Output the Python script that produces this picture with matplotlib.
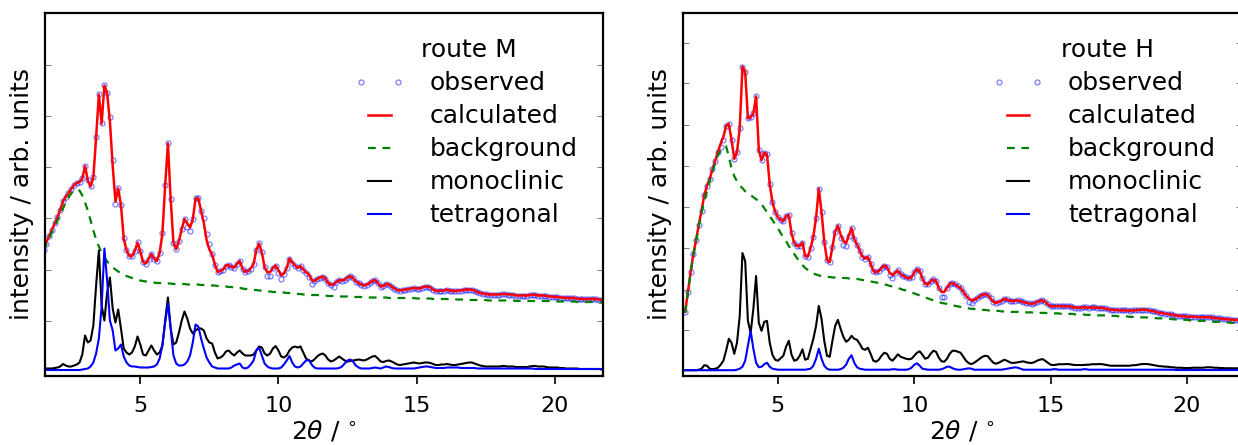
import numpy as np
import matplotlib.pyplot as plt
from matplotlib.legend_handler import HandlerLine2D

# 2theta grids in degrees (0.1 deg steps)
two_theta_m = np.round(np.arange(1.5, 22.01, 0.1), 1)
two_theta_h = np.round(np.arange(1.6, 22.01, 0.1), 1)

# route M, intensities in arb. units
background_m = [
    120, 126, 132, 138, 144, 150, 156, 162, 168, 173,
    177, 180, 181, 180, 175, 168, 160, 150, 140, 131,
    124, 118, 113, 109, 106, 103, 101, 99, 97.5, 96,
    94.5, 93.5, 92.5, 91.5, 90.5, 90, 89.5, 89, 88.5, 88,
    88, 87.5, 87.5, 87, 87, 87, 87, 86.5, 86.5, 86.5,
    86.5, 86.5, 86, 86, 86, 86, 86, 85.5, 85.5, 85.5,
    85, 85, 85, 84.5, 84.5, 84, 84, 83.5, 83.5, 83,
    82.5, 82.5, 82, 81.5, 81.5, 81, 80.5, 80.5, 80, 80,
    79.5, 79, 79, 78.5, 78.5, 78.5, 78, 78, 77.5, 77.5,
    77, 77, 76.5, 76.5, 76, 76, 76, 75.5, 75.5, 75.5,
    75, 75, 75, 74.5, 74.5, 74.5, 74.5, 74, 74, 74,
    74, 74, 73.5, 73.5, 73.5, 73.5, 73, 73, 73, 73,
    73, 73, 73, 73, 73, 72.5, 72.5, 72.5, 72.5, 72.5,
    72.5, 72.5, 72.5, 72.5, 72.5, 72, 72, 72, 72, 72,
    72, 71.5, 71.5, 71.5, 71.5, 71.5, 71.5, 71, 71, 71,
    71, 71, 71, 71, 70.5, 70.5, 70.5, 70.5, 70.5, 70.5,
    70.5, 70, 70, 70, 70, 70, 70, 70, 70, 70,
    70, 69.5, 69.5, 69.5, 69.5, 69.5, 69.5, 69.5, 69.5, 69.5,
    69.5, 69.5, 69.5, 69.5, 69.5, 69, 69, 69, 69, 69,
    69, 69, 69, 68.5, 68.5, 68.5, 68.5, 68.5, 68.5, 68.5,
    68.5, 68, 68, 68, 68, 68,
]
monoclinic_m = [
    2, 2, 2, 2, 2.5, 3, 4, 6.5, 5, 4,
    4, 5, 6, 8, 16, 35, 28, 30, 45, 85,
    120, 65, 50, 78, 93, 62, 48, 61, 42, 22,
    18, 16, 18, 24, 34, 26, 16, 15, 20, 25,
    20, 16, 18, 25, 50, 73, 42, 26, 28, 38,
    50, 59, 52, 42, 37, 40, 42, 42, 40, 32,
    28, 27, 18, 12, 13, 15, 19, 20, 17, 15,
    18, 20, 17, 15, 15, 15, 16, 20, 24, 23,
    17, 15, 17, 22, 24.5, 20, 14, 13, 15, 20,
    23, 24, 23, 24, 18, 12, 10, 9, 11, 14,
    16, 17, 15, 11, 9, 10, 12, 14, 12, 10,
    9, 9.5, 10, 10.5, 11, 10.5, 10, 11, 12.5, 14,
    14.5, 12, 9, 8.5, 9.5, 10, 9, 7.5, 6, 5.5,
    6, 6.5, 7, 7.5, 8, 7.5, 7, 7.5, 8, 8,
    7.5, 6.5, 5.5, 5.5, 6, 6, 6.5, 6, 5.5, 5.5,
    6, 6.5, 7, 7.5, 8, 8, 7, 6, 5, 4.5,
    4, 4, 4, 4, 4, 4, 4.5, 4.5, 4, 4,
    4, 3.5, 3.5, 3.5, 3.5, 3.5, 4, 4.5, 4.5, 4,
    4, 4, 3.5, 3, 3, 3, 3, 2.5, 2.5, 2,
    2, 2, 2, 2, 1.5, 1.5, 1.5, 1.5, 1.5, 1.5,
    1.5, 1.5, 1, 1, 1, 1,
]
tetragonal_m = [
    0.5, 0.5, 0.5, 0.5, 0.5, 0.5, 0.5, 0.5, 0.5, 0.5,
    0.5, 0.5, 0.5, 0.5, 1, 1.5, 2, 4, 8, 17,
    32, 64, 122, 90, 50, 40, 20, 22, 26, 14,
    8, 5, 4, 4, 3.5, 3, 3, 3, 3, 3.5,
    4, 6, 12, 25, 48, 67, 42, 15, 7, 5,
    5, 6, 9, 15, 28, 46, 44, 32, 22, 13,
    8, 4, 3, 2, 2, 2, 2, 2, 3, 5,
    6, 7, 3, 2, 3, 6, 10, 20, 23, 15,
    7, 4, 2.5, 2, 2, 2, 3, 6, 10, 14.5,
    8, 4, 3, 4, 7, 10, 10.5, 6, 3, 2,
    2, 2, 2, 2, 2, 2, 2, 2.5, 4, 7,
    10, 11, 9, 5, 3, 2, 2, 2, 2, 2.5,
    3, 2.5, 2, 3, 4, 3.5, 2.5, 2, 2, 2,
    2, 2, 2, 2, 2, 2.5, 3, 3.5, 4, 4,
    3.5, 3, 2.5, 2.5, 2.5, 2.5, 3, 3, 3, 3,
    3, 2.5, 2.5, 2.5, 2.5, 2.5, 2.5, 2, 2, 2,
    2, 2, 2, 2, 2, 2, 2, 2, 2, 2,
    2, 2, 2, 2, 2, 2, 2, 2, 1.5, 1.5,
    1.5, 1.5, 1.5, 1.5, 1.5, 1.5, 1.5, 1.5, 1.5, 1.5,
    1.5, 1.5, 1.5, 1.5, 1.5, 1.5, 1.5, 1.5, 1.5, 1.5,
    1.5, 1.5, 1.5, 1.5, 1.5, 1.5,
]
# where observed points sit off the calculated curve
obs_dev_x_m = [1.5, 1.6, 3.9, 4.0, 4.1, 6.7, 6.8, 7.3, 7.4, 7.5, 9.6, 9.7, 10.0, 10.1, 11.1, 11.2, 12.0]
obs_dev_y_m = [-2, -2, 4, 5, -3, -4, -4, 5, 6, 5, -3, -4, -3, -3, -3, -4, -3]

# route H
background_h = [
    58, 78, 98, 116, 130, 145, 158, 170, 180, 190,
    200, 208, 216, 221, 224, 225, 215, 203, 195, 190,
    186, 183, 180, 178, 176, 174, 172, 170, 167, 163,
    159, 155, 151, 147, 143, 138, 134, 130, 125, 121,
    117, 113, 109, 106, 103, 101, 99, 97.5, 96.5, 95.5,
    95, 94.5, 94, 94, 93.5, 93.5, 93.5, 93, 93, 93,
    92.5, 92.5, 92, 92, 91.5, 91, 90.5, 90, 89.5, 89,
    88.5, 88, 87, 86.5, 86, 85, 84.5, 83.5, 83, 82,
    81, 80.5, 79.5, 78.5, 77.5, 76.5, 75.5, 74.5, 73.5, 72.5,
    71.5, 70.5, 70, 69, 68, 67.5, 67, 66, 65.5, 65,
    64.5, 64, 63.5, 63, 62.5, 62, 62, 61.5, 61.5, 61,
    61, 60.5, 60.5, 60, 60, 60, 59.5, 59.5, 59.5, 59,
    59, 59, 59, 58.5, 58.5, 58.5, 58.5, 58.5, 58, 58,
    58, 58, 58, 57.5, 57.5, 57.5, 57.5, 57.5, 57, 57,
    57, 57, 57, 56.5, 56.5, 56.5, 56.5, 56, 56, 56,
    56, 55.5, 55.5, 55.5, 55.5, 55, 55, 55, 55, 54.5,
    54.5, 54.5, 54.5, 54, 54, 54, 54, 53.5, 53.5, 53.5,
    53, 53, 53, 52.5, 52.5, 52.5, 52, 52, 52, 51.5,
    51.5, 51.5, 51, 51, 51, 50.5, 50.5, 50.5, 50, 50,
    50, 49.5, 49.5, 49.5, 49, 49, 49, 48.5, 48.5, 48.5,
    48, 48, 48, 47.5, 47.5,
]
monoclinic_h = [
    0.5, 0.5, 0.5, 0.5, 0.5, 1, 2, 5.5, 5, 2,
    1.5, 2, 3, 6, 10, 20, 32, 28, 17, 28,
    55, 118, 110, 50, 38, 62, 95, 48, 40, 49,
    50, 28, 16, 11, 10, 12.5, 15, 24, 30, 16,
    10, 11, 15, 21.5, 11, 12, 22, 32, 45, 65,
    52, 30, 15, 14, 30, 45, 51, 42, 34, 29,
    31, 35, 32, 31, 27, 22, 21, 23, 17, 10,
    9, 11, 15, 18, 17, 12, 10, 13, 16.5, 14,
    13, 12, 11.5, 12, 15, 18, 19.5, 16, 12, 13,
    17, 20, 19, 13, 9.5, 9, 12, 17, 20, 20,
    19, 18, 14, 10, 7.5, 6.7, 8, 10, 12, 14,
    15, 14.5, 11, 8, 7, 8, 9.5, 11, 10, 8.5,
    7.7, 8, 8.5, 9, 9.4, 8.5, 8, 7.7, 8.5, 10,
    11, 11.7, 10, 8, 6, 5.7, 6, 6.5, 6.5, 6.5,
    6.7, 6.5, 6, 5.7, 5.7, 5.7, 5.7, 6, 6, 6.5,
    6.5, 6.5, 6.7, 6.5, 6, 5.5, 5, 5, 5, 5,
    5, 5, 5, 5, 5.5, 5.5, 6, 6.5, 6.7, 6.7,
    6.5, 6, 5.5, 5, 4.5, 4.4, 4, 4, 3.5, 3.5,
    3, 3, 3, 2.7, 2.7, 2.7, 3, 3, 3, 3,
    3, 3.4, 3.4, 3.4, 3, 3, 2.7, 2.7, 2.5, 2.5,
    2.5, 2.5, 2.4, 2.4, 2.4,
]
tetragonal_h = [
    0.5, 0.5, 0.5, 0.5, 0.5, 0.5, 0.5, 0.5, 0.5, 0.5,
    0.5, 0.5, 0.5, 0.5, 0.5, 0.5, 0.5, 0.5, 0.5, 1,
    2, 4, 10, 25, 40, 22, 8, 3.5, 4, 6.5,
    8, 4, 2, 1.5, 1, 1, 1, 1, 1, 1,
    1, 1, 1, 1, 1, 1.5, 2, 5, 12, 22,
    12, 5, 2, 1, 1, 1, 1, 1.5, 3, 6,
    12, 15.5, 8, 3.5, 2, 1.5, 1, 1, 1, 1,
    1, 1, 1, 1, 1, 1, 1.5, 1.5, 1, 1,
    1, 1, 1.5, 3, 6, 7.4, 5, 2, 1.5, 1,
    1, 1, 1, 1, 1.5, 2.5, 4, 4, 2.5, 1.5,
    1, 1, 1.5, 2, 2.4, 2, 1, 1, 1, 1,
    1, 1, 1, 1, 1, 1, 1, 1.5, 2, 2.5,
    3, 3.4, 3, 2, 1, 1, 1, 1, 1, 1,
    1, 1, 1, 1, 1, 1.5, 1.5, 1, 1, 1,
    1, 1, 1, 1, 1, 1, 1.5, 1.5, 1, 1,
    1, 1, 1, 1, 1, 1, 1, 1, 1, 1,
    1, 1, 1, 1, 1, 1, 1, 1, 1, 1,
    1, 1, 1, 1, 1, 1, 1, 1, 1, 1,
    0.7, 0.7, 0.7, 0.7, 0.7, 0.7, 0.7, 0.7, 0.7, 0.7,
    0.7, 0.7, 0.7, 0.7, 0.7, 0.7, 0.7, 0.7, 0.7, 0.7,
    0.7, 0.7, 0.7, 0.7, 0.7,
]
obs_dev_x_h = [2.9, 3.0, 7.3, 7.4, 7.5, 9.1, 9.2, 11.0, 11.1, 12.0, 12.1]
obs_dev_y_h = [-3, -3, -3, -4, -3, -2, -3, -5, -5, -3, -3]

xtick_values = [5, 10, 15, 20]
yticks_m = [50, 101, 152, 203, 254, 305]
yticks_h = [40.4, 81.4, 122.7, 164, 205.4, 246.4, 288.4, 329]


def plot_panel(ax, x, bg, mono, tet, dev_x, dev_y, route, xlim, ylim, yticks):
    bg = np.array(bg, dtype=float)
    mono = np.array(mono, dtype=float)
    tet = np.array(tet, dtype=float)
    # calculated pattern = background + both phase contributions
    calc = bg + mono + tet
    obs = calc.copy()
    for xx, dy in zip(dev_x, dev_y):
        obs[np.argmin(np.abs(x - xx))] += dy

    obs_line, = ax.plot(x, obs, "o", mfc="none", mec="b", alpha=0.5, ms=3.6,
                        mew=0.9, label="observed")
    ax.plot(x, calc, "r-", lw=1.8, label="calculated")
    ax.plot(x, bg, "--", color=(0, 0.5, 0), lw=1.6, dashes=(3.5, 3),
            label="background")
    ax.plot(x, mono, "k-", lw=1.5, label="monoclinic")
    ax.plot(x, tet, "b-", lw=1.5, label="tetragonal")

    ax.set_xlim(*xlim)
    ax.set_ylim(*ylim)
    ax.set_xticks(xtick_values)
    ax.set_yticks(yticks)
    ax.tick_params(axis="x", direction="out", length=6, width=1.2,
                   labelsize=16, pad=8.5, top=False)
    ax.tick_params(axis="y", direction="in", length=4, width=0.6,
                   left=True, right=True, labelleft=False, color="0.4")
    for s in ax.spines.values():
        s.set_linewidth(1.6)

    ax.set_xlabel(r"$2\theta$ / $^{\circ}$", fontsize=18, labelpad=1.5)
    ax.set_ylabel("intensity / arb. units", fontsize=18, labelpad=8)

    ax.legend(loc="upper right", numpoints=2, frameon=False,
              title="route " + route, fontsize=18, title_fontsize=18,
              handlelength=1.5, handletextpad=1.25, labelspacing=0.36,
              borderaxespad=0.62,
              handler_map={obs_line: HandlerLine2D(marker_pad=0, numpoints=2)})


fig = plt.figure(figsize=(12.38, 4.45), dpi=100)
ax_m = fig.add_axes([45 / 1238, 69 / 445, 558 / 1238, 363 / 445])
ax_h = fig.add_axes([683 / 1238, 69 / 445, 558.5 / 1238, 363 / 445])

plot_panel(ax_m, two_theta_m, background_m, monoclinic_m, tetragonal_m,
           obs_dev_x_m, obs_dev_y_m, "M", (1.55, 21.75), (-5.5, 357.5), yticks_m)
plot_panel(ax_h, two_theta_h, background_h, monoclinic_h, tetragonal_h,
           obs_dev_x_h, obs_dev_y_h, "H", (1.52, 22.0), (-5.3, 358.7), yticks_h)

fig.savefig("out.png", dpi=100)
